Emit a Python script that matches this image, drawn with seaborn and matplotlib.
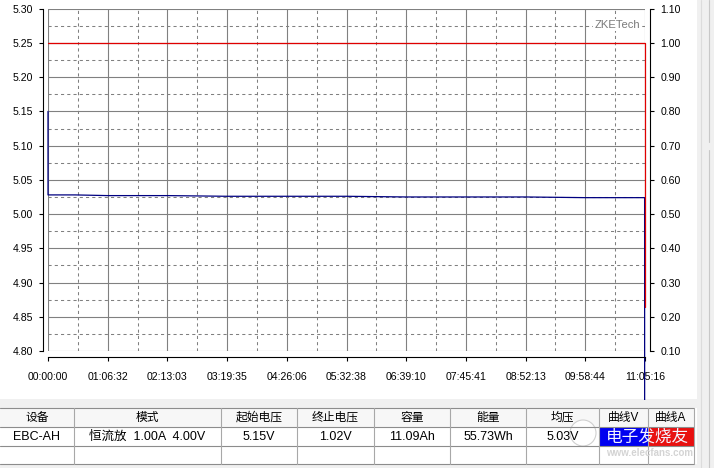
import numpy as np
import pandas as pd
import matplotlib
matplotlib.use("Agg")
import matplotlib.pyplot as plt
import seaborn as sns
from matplotlib.patches import Rectangle, Circle
from matplotlib.transforms import Bbox, TransformedBbox

# ---------------------------------------------------------------
# datos (tiempo en segundos)
# ---------------------------------------------------------------
duracion = 39916  # 11:05:16

volt_t = [0, 1, 1800, 3992, 7983, 11975, 15966, 19958, 23950, 27941,
          31933, 35924, 39890, 39916]
volt_v = [5.15, 5.028, 5.028, 5.027, 5.027, 5.026, 5.026, 5.026, 5.025,
          5.025, 5.025, 5.024, 5.024, 1.02]

corr_t = [0, 39916, 39916]
corr_a = [1.00, 1.00, 0.23]

x_labels = ["00:00:00", "01:06:32", "02:13:03", "03:19:35", "04:26:06",
            "05:32:38", "06:39:10", "07:45:41", "08:52:13", "09:58:44",
            "11:05:16"]
v_ticks = [4.80, 4.85, 4.90, 4.95, 5.00, 5.05, 5.10, 5.15, 5.20, 5.25, 5.30]
a_ticks = [0.10, 0.20, 0.30, 0.40, 0.50, 0.60, 0.70, 0.80, 0.90, 1.00, 1.10]

cabecera = ["设备", "模式", "起始电压", "终止电压", "容量", "能量", "均压",
            "曲线V", "曲线A"]
fila = ["EBC-AH", "恒流放  1.00A  4.00V", "5.15V", "1.02V", "11.09Ah",
        "55.73Wh", "5.03V", "", ""]

# ---------------------------------------------------------------
sns.set_theme(style="white")
plt.rcParams["font.family"] = ["Liberation Sans", "Noto Sans CJK SC", "DejaVu Sans"]
FS = 7.6
W, H = 714, 468

fig = plt.figure(figsize=(W / 100, H / 100), dpi=100)
fig.patch.set_facecolor("white")

# fondo / tabla en coordenadas de pixel
fondo = fig.add_axes([0, 0, 1, 1])
fondo.set_xlim(0, W)
fondo.set_ylim(H, 0)
fondo.axis("off")

gris = "#f0f0f0"
fondo.add_patch(Rectangle((697, 0), 17, H, fc=gris, ec="none"))
fondo.plot([701, 701], [0, H], color="#dcdcdc", lw=0.8)
fondo.plot([709, 709], [0, 142], color="#c8c8c8", lw=0.8)
fondo.plot([709, 709], [150, H], color="#c8c8c8", lw=0.8)
fondo.add_patch(Rectangle((0, 399), 697, 9, fc=gris, ec="none"))
fondo.add_patch(Rectangle((0, 464), 697, 4, fc=gris, ec="none"))

cols = [0, 74, 221, 297, 374, 450, 526, 599, 648, 694]
filas = [408, 427, 446, 464]
fondo.add_patch(Rectangle((0, filas[0]), cols[-1], filas[1] - filas[0],
                          fc="#f7f7f7", ec="none"))
fondo.add_patch(Rectangle((0, filas[1]), cols[-1], filas[3] - filas[1],
                          fc="white", ec="none"))
for yy in filas:
    fondo.plot([0, cols[-1]], [yy, yy], color="#8c8c8c", lw=0.8)
for xx in cols[1:]:
    fondo.plot([xx, xx], [filas[0], filas[3]], color="#a8a8a8", lw=0.8)

for i in range(len(cabecera)):
    xc = (cols[i] + cols[i + 1]) / 2
    fondo.text(xc, (filas[0] + filas[1]) / 2, cabecera[i], ha="center",
               va="center", fontsize=8.5, color="black")
    if fila[i]:
        fondo.text(xc, (filas[1] + filas[2]) / 2 + 0.5, fila[i], ha="center",
                   va="center", fontsize=9, color="black")

# marca de agua
fondo.add_patch(Rectangle((599, 427.5), 49, 18, fc="#0000f0", ec="none"))
fondo.add_patch(Rectangle((648, 427.5), 46, 18, fc="#e81010", ec="none"))
fondo.text(647, 437, "电子发烧友", ha="center", va="center", fontsize=12,
           color="#f4f4ff", family=["Noto Sans CJK SC"])
fondo.text(650, 453, "www.elecfans.com", ha="center", va="center",
           fontsize=7, color="#d4d4d4", weight="bold")
fondo.add_patch(Circle((583, 433), 13, fc="white", ec="#c8c8c8", lw=0.8,
                       alpha=0.85))

# ---------------------------------------------------------------
# grafico principal
# ---------------------------------------------------------------
ax = fig.add_axes([48 / W, 1 - 351 / H, 597 / W, 342.3 / H])
ax.set_facecolor("white")
ax2 = ax.twinx()

xt = [duracion * i / 10 for i in range(len(x_labels))]
ax.set_xlim(0, duracion)
ax.set_xticks(xt)
ax.set_xticks([duracion * (i + 0.5) / 10 for i in range(10)], minor=True)
ax.set_xticklabels(x_labels)
ax.set_ylim(4.80, 5.30)
ax.set_yticks(v_ticks)
ax.set_yticks([v + 0.025 for v in v_ticks[:-1]], minor=True)
ax.set_yticklabels([f"{v:.2f}" for v in v_ticks])

ax2.set_ylim(0.10, 1.10)
ax2.set_yticks(a_ticks)
ax2.set_yticklabels([f"{a:.2f}" for a in a_ticks])

ax.grid(which="major", color="#808080", lw=0.8, ls="-")
ax.grid(which="minor", color="#808080", lw=0.75, ls=(0, (3, 3)))
ax2.grid(False)

for s in ["top", "right"]:
    ax.spines[s].set_visible(False)
for s in ["top", "left", "bottom"]:
    ax2.spines[s].set_visible(False)
ax.spines["left"].set_position(("outward", 3.4))
ax.spines["bottom"].set_position(("outward", 4.1))
ax2.spines["right"].set_position(("outward", 3.6))
for sp in [ax.spines["left"], ax.spines["bottom"], ax2.spines["right"]]:
    sp.set_color("black")
    sp.set_linewidth(0.8)

ax.tick_params(axis="both", which="major", direction="out", length=3,
               width=0.8, color="black", labelsize=FS, labelcolor="black")
ax.tick_params(axis="x", which="major", pad=8, bottom=True)
ax.tick_params(axis="y", which="major", pad=4.3, left=True)
ax.tick_params(which="minor", length=0)
ax2.tick_params(axis="y", direction="out", length=3, width=0.8,
                color="black", labelsize=FS, labelcolor="black", pad=4.3,
                right=True)

sns.lineplot(x=volt_t, y=volt_v, ax=ax, color="#000080", lw=0.9,
             estimator=None, sort=False, legend=False)
linea_v = ax.lines[-1]
linea_v.set_clip_box(TransformedBbox(Bbox([[40 / W, 1 - 400 / H], [1, 1]]),
                                     fig.transFigure))

sns.lineplot(x=corr_t, y=corr_a, ax=ax2, color="#e00000", lw=0.9,
             estimator=None, sort=False, legend=False)
ax2.lines[-1].set_zorder(5)
ax2.lines[-1].set_clip_on(False)
ax2.set_xlim(0, duracion)
ax.set_xlabel("")
ax.set_ylabel("")
ax2.set_ylabel("")

ax.text((640 - 48) / 597, 1 - (25 - 8.7) / 342.3, "ZKETech",
        transform=ax.transAxes, ha="right", va="center", fontsize=8.1,
        color="#7a7a7a",
        bbox=dict(fc="white", ec="none", pad=0.8))

fig.savefig("out.png", dpi=100)
